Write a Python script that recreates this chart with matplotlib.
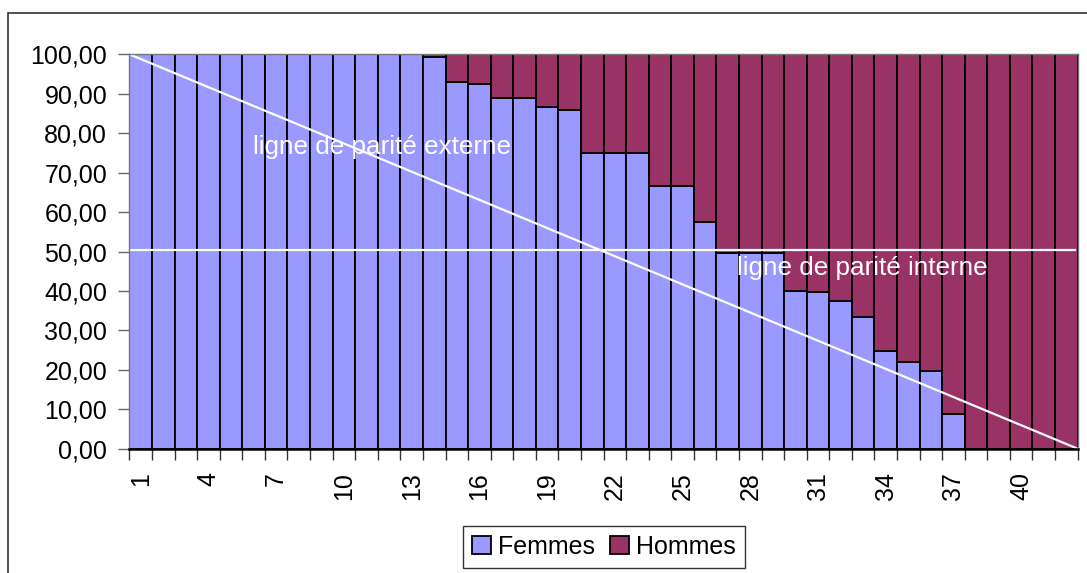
import numpy as np
import matplotlib.pyplot as plt
from matplotlib.patches import Rectangle
from matplotlib.ticker import FuncFormatter, MultipleLocator

plt.rcParams['font.family'] = ['Liberation Sans', 'DejaVu Sans']

# share of women (%) for each rank 1..42
femmes = [100, 100, 100, 100, 100, 100, 100, 100, 100, 100,
          100, 100, 100, 99.4, 93.0, 92.4, 88.8, 88.8, 86.7, 85.9,
          75.0, 75.0, 75.0, 66.6, 66.6, 57.4, 49.6, 49.6, 49.6, 40.1,
          39.7, 37.5, 33.4, 24.9, 22.1, 19.8, 8.9, 0, 0, 0,
          0, 0]
hommes = [100 - f for f in femmes]
ranks = list(range(1, len(femmes) + 1))
parite_interne = 50.5

C_F = '#9999FF'
C_H = '#993366'

fig = plt.figure(figsize=(10.87, 5.73), dpi=100)
ax = fig.add_axes([0.1191, 0.2169, 0.8723, 0.6883])

x = np.arange(len(ranks))
ax.bar(x, femmes, width=1.0, color=C_F, edgecolor='black', linewidth=1.3, label='Femmes')
ax.bar(x, hommes, width=1.0, bottom=femmes, color=C_H, edgecolor='black', linewidth=1.3, label='Hommes')

# parity lines
n = len(ranks)
ax.plot([-0.5, n - 0.5], [100, 0], color='white', linewidth=1.6)
ax.plot([-0.5, n - 0.6], [parite_interne, parite_interne], color='white', linewidth=1.6)
ax.text(4.97, 76.5, 'ligne de parité externe', color='white', fontsize=18.8, ha='left', va='center')
ax.text(26.4, 45.7, 'ligne de parité interne', color='white', fontsize=18.8, ha='left', va='center')

ax.set_xlim(-0.5, n - 0.5)
ax.set_ylim(0, 100)
ax.yaxis.set_major_locator(MultipleLocator(10))
ax.yaxis.set_major_formatter(FuncFormatter(lambda v, p: f'{v:.2f}'.replace('.', ',')))
ax.set_xticks(x[::3])
ax.set_xticklabels([str(r) for r in ranks[::3]], rotation=90)
ax.set_xticks(np.arange(-0.5, n, 1.0), minor=True)
ax.tick_params(axis='x', which='major', length=0, pad=17, labelsize=18)
ax.tick_params(axis='x', which='minor', length=8, width=1, color='#333333', direction='out')
ax.tick_params(axis='y', length=8, width=1, color='#666666', pad=8, labelsize=18)

for s in ['top', 'right', 'left']:
    ax.spines[s].set_color('#777777')
    ax.spines[s].set_linewidth(1)
ax.spines['bottom'].set_color('black')
ax.spines['bottom'].set_linewidth(1.8)

leg = fig.legend(loc='center', bbox_to_anchor=(0.5557, 0.0454), ncol=2, fontsize=18,
                 frameon=True, fancybox=False, edgecolor='black', handlelength=0.75,
                 handleheight=0.75, handletextpad=0.3, columnspacing=0.6, borderpad=0.35)
leg.get_frame().set_linewidth(1)

# chart outer border (clipped at right/bottom like the reference)
fig.patches.append(Rectangle((8 / 1087, -0.1), 1.2, (573 - 13) / 573 + 0.1,
                             transform=fig.transFigure, fill=False,
                             edgecolor='#333333', linewidth=1.2))

fig.savefig('out.png', dpi=100)
